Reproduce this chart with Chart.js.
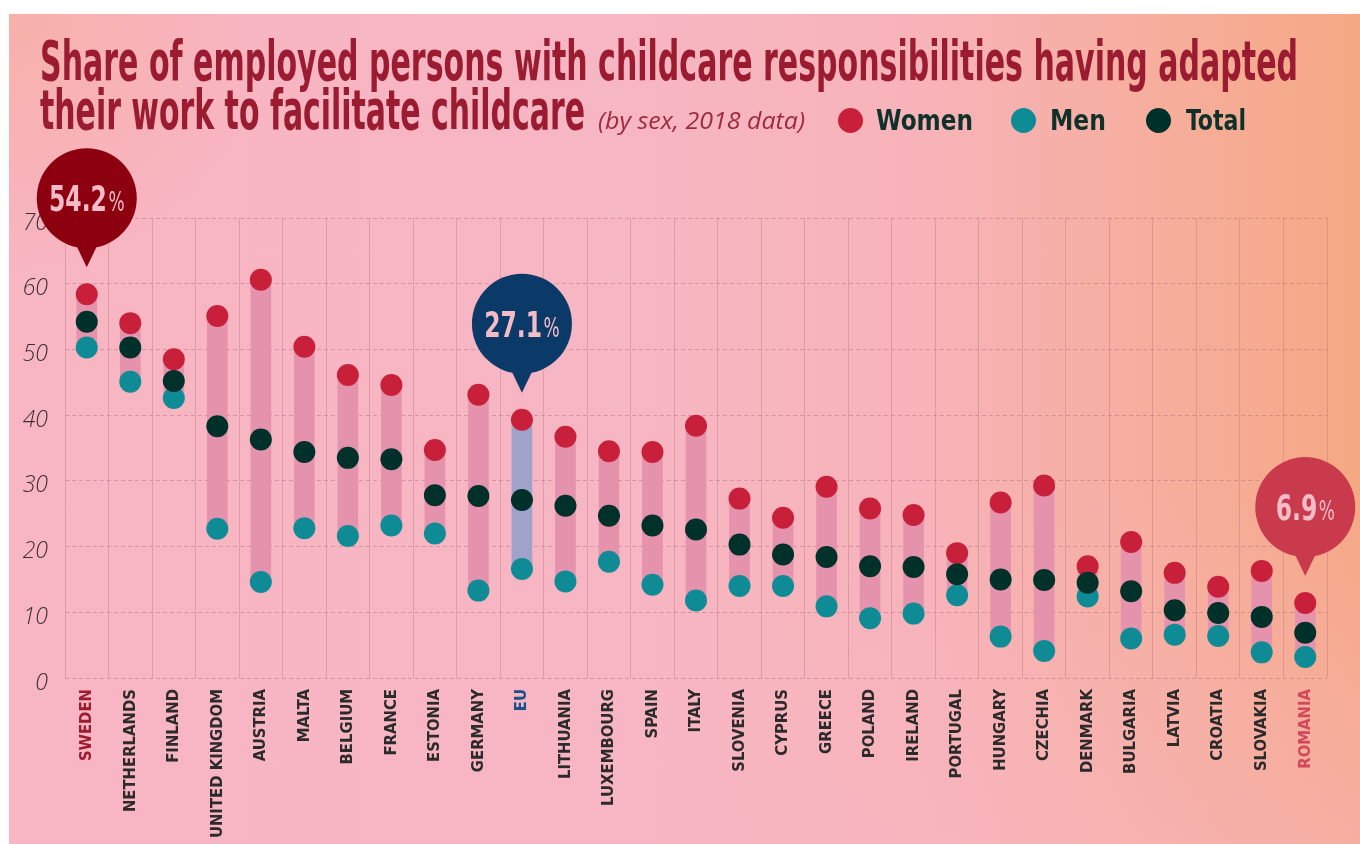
<!DOCTYPE html>
<html><head><meta charset="utf-8">
<script src="https://cdn.jsdelivr.net/npm/chart.js@4.4.1/dist/chart.umd.min.js"></script>
<style>
html,body{margin:0;padding:0;background:#fff;}
#page{position:relative;width:1360px;height:844px;overflow:hidden;background:#fff;}
#bg{position:absolute;left:9px;top:14px;right:0;bottom:0;
 background:
  radial-gradient(circle at 0 0, rgba(246,172,150,0.55), rgba(246,172,150,0) 260px),
  linear-gradient(180deg, rgba(248,182,196,0) 55%, rgba(248,182,196,0.45) 100%),
  linear-gradient(90deg, #f8b5c2 0%, #f7b6c3 45%, #f7b3b8 68%, #f6ad98 88%, #f5a883 100%);}
#chart{position:absolute;left:0;top:0;}
.t{position:absolute;white-space:nowrap;transform-origin:0 0;}
.title{font-family:"Liberation Sans Narrow","DejaVu Sans Condensed",sans-serif;font-weight:bold;font-size:56px;line-height:56px;color:#9b1c31;}
.sub{font-family:"Open Sans",sans-serif;font-style:italic;font-weight:400;font-size:24px;line-height:24px;color:#9e2a3f;}
.leg{font-family:"Liberation Sans Narrow","DejaVu Sans Condensed",sans-serif;font-weight:bold;font-size:29px;line-height:29px;color:#10302a;}
.dot{position:absolute;width:25px;height:25px;border-radius:50%;}
</style></head>
<body>
<div id="page">
 <div id="bg"></div>
 <canvas id="chart" width="1360" height="844"></canvas>
 <div class="t title" style="left:40px;top:33px" data-w="1258">Share of employed persons with childcare responsibilities having adapted</div>
 <div class="t title" style="left:40px;top:82px" data-w="545">their work to facilitate childcare</div>
 <div class="t sub" style="left:598px;top:108px" data-w="207">(by sex, 2018 data)</div>
 <div class="dot" style="left:838px;top:108px;background:#c8203a"></div>
 <div class="t leg" style="left:876px;top:106px" data-w="97">Women</div>
 <div class="dot" style="left:1011px;top:108px;background:#0f8b96"></div>
 <div class="t leg" style="left:1050px;top:106px" data-w="56">Men</div>
 <div class="dot" style="left:1146px;top:108px;background:#00302a"></div>
 <div class="t leg" style="left:1186px;top:106px" data-w="60">Total</div>
</div>
<script>
const categories = ['SWEDEN','NETHERLANDS','FINLAND','UNITED KINGDOM','AUSTRIA','MALTA','BELGIUM','FRANCE','ESTONIA','GERMANY','EU','LITHUANIA','LUXEMBOURG','SPAIN','ITALY','SLOVENIA','CYPRUS','GREECE','POLAND','IRELAND','PORTUGAL','HUNGARY','CZECHIA','DENMARK','BULGARIA','LATVIA','CROATIA','SLOVAKIA','ROMANIA'];
const women = [58.4,54.0,48.5,55.1,60.6,50.4,46.1,44.6,34.7,43.1,39.3,36.7,34.5,34.4,38.4,27.3,24.4,29.1,25.8,24.8,19.0,26.7,29.3,17.0,20.7,16.0,13.9,16.3,11.4];
const men = [50.3,45.1,42.6,22.7,14.6,22.8,21.6,23.2,22.0,13.3,16.6,14.7,17.7,14.2,11.8,14.0,14.0,10.9,9.1,9.8,12.6,6.3,4.1,12.4,6.0,6.6,6.4,3.9,3.2];
const total = [54.2,50.3,45.2,38.3,36.3,34.4,33.5,33.3,27.8,27.7,27.1,26.2,24.7,23.2,22.6,20.3,18.8,18.4,17.0,16.9,15.8,15.0,14.9,14.5,13.2,10.3,9.9,9.3,6.9];
const yTickValues = [0,10,20,30,40,50,60,70];
const highlighted = ['SWEDEN','EU','ROMANIA'];

// fit html text widths
document.querySelectorAll('[data-w]').forEach(el=>{
  const w = el.getBoundingClientRect().width;
  el.style.transform = 'scaleX(' + (parseFloat(el.dataset.w)/w) + ')';
});

const NARROW = '"Liberation Sans Narrow","DejaVu Sans Condensed",sans-serif';
const labelColors = {SWEDEN:'#9b1b30', EU:'#1f4e8c', ROMANIA:'#d0485a'};
const calloutColors = {SWEDEN:'#8c0010', EU:'#0b3a68', ROMANIA:'#c93b4c'};

const calloutPlugin = {
  id:'callouts',
  afterDatasetsDraw(chart){
    const {ctx, scales:{x,y}} = chart;
    ctx.save();
    ctx.font = 'bold 36px ' + NARROW;
    const sx = 58 / ctx.measureText('54.2').width;
    ctx.restore();
    highlighted.forEach(name=>{
      const i = categories.indexOf(name);
      const cx = x.getPixelForValue(i);
      const tipY = y.getPixelForValue(women[i]) - 27;
      const r = 50;
      const cy = tipY - 69;
      ctx.save();
      ctx.fillStyle = calloutColors[name];
      ctx.beginPath(); ctx.arc(cx, cy, r, 0, Math.PI*2); ctx.fill();
      ctx.beginPath(); ctx.moveTo(cx-12, cy+r-6); ctx.lineTo(cx, tipY); ctx.lineTo(cx+12, cy+r-6); ctx.closePath(); ctx.fill();
      const num = total[i].toFixed(1);
      ctx.font = 'bold 36px ' + NARROW;
      const w1 = ctx.measureText(num).width;
      ctx.font = '26px ' + NARROW;
      const w2 = ctx.measureText('%').width;
      const tw = (w1 + 2 + w2) * sx;
      ctx.translate(cx - tw/2, cy + 13);
      ctx.scale(sx, 1);
      ctx.fillStyle = '#f4bcc6';
      ctx.textBaseline = 'alphabetic'; ctx.textAlign = 'left';
      ctx.font = 'bold 36px ' + NARROW;
      ctx.fillText(num, 0, 0);
      ctx.font = '26px ' + NARROW;
      ctx.fillText('%', w1 + 2, 0);
      ctx.restore();
    });
  }
};

const pointDs = (label, data, color, order) => ({
  type:'line', label, data, showLine:false, pointRadius:11, pointHoverRadius:11,
  pointBackgroundColor:color, pointBorderWidth:0, borderColor:color, order
});

new Chart(document.getElementById('chart'), {
  type:'bar',
  data:{
    labels:categories,
    datasets:[
      pointDs('Total', total, '#00302a', 1),
      pointDs('Men', men, '#0f8b96', 2),
      pointDs('Women', women, '#c8203a', 3),
      {type:'bar', label:'Range', data:categories.map((c,i)=>[men[i], women[i]]),
       backgroundColor:categories.map(c=>c==='EU' ? '#9fa2cb' : '#e592ad'),
       barThickness:20, borderSkipped:false, order:10}
    ]
  },
  options:{
    responsive:false, animation:false, events:[],
    layout:{padding:{left:0, right:33, top:218, bottom:0}},
    plugins:{legend:{display:false}, tooltip:{enabled:false}},
    scales:{
      x:{
        offset:true,
        grid:{offset:true, color:'rgba(170,100,120,0.32)', lineWidth:1, drawTicks:false},
        border:{display:false},
        ticks:{autoSkip:false, minRotation:90, maxRotation:90, padding:11,
          font:{family:NARROW, weight:'bold', size:16.5},
          color:(c)=> labelColors[categories[c.index]] || '#2d2a2b'},
        afterFit(s){ s.height = 166; }
      },
      y:{
        min:0, max:70,
        afterBuildTicks(s){ s.ticks = yTickValues.map(v=>({value:v})); },
        grid:{color:'rgba(170,100,120,0.42)', lineWidth:1, drawTicks:false},
        border:{display:false, dash:[4,3]},
        ticks:{padding:17, labelOffset:5,
          font:{family:'"Open Sans",sans-serif', style:'italic', weight:300, size:23},
          color:'#3b3034'},
        afterFit(s){ s.width = 65; }
      }
    }
  },
  plugins:[calloutPlugin]
});
</script>
</body></html>
